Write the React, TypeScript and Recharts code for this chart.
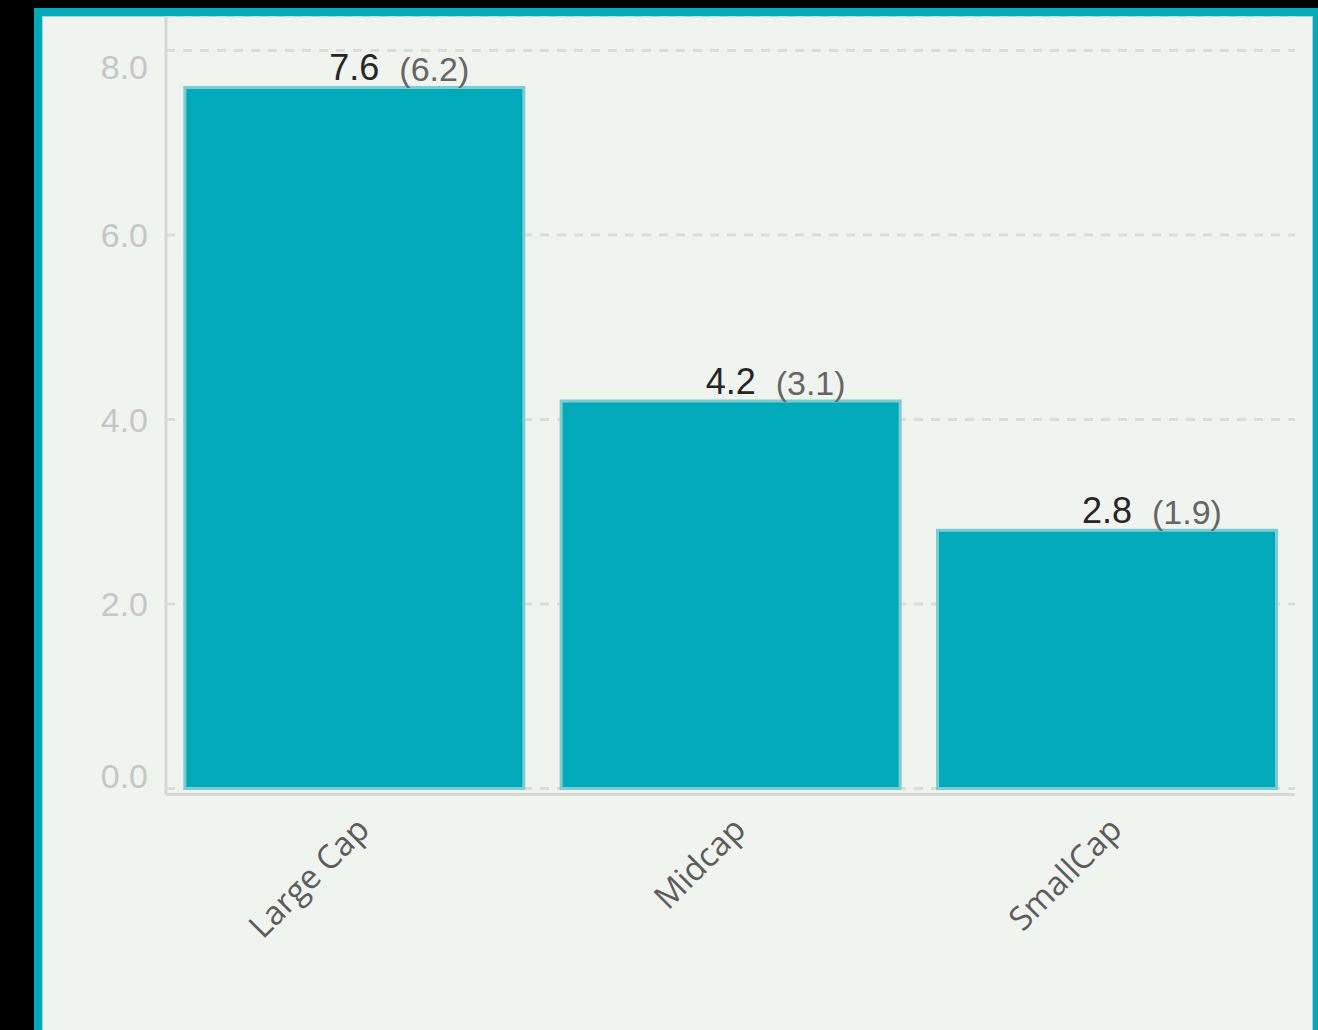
import { BarChart, Bar, XAxis, YAxis, CartesianGrid, LabelList } from "recharts";

const categories = ["Large Cap", "Midcap", "SmallCap"];
const currentValues = [7.6, 4.2, 2.8];
const previousValues = [6.2, 3.1, 1.9];
const yTicks = [0, 2, 4, 6, 8];

const data = categories.map((name, i) => ({
  name,
  value: currentValues[i],
  prev: previousValues[i],
}));

const TEAL = "#02a9b8";
const BAR_EDGE = "#7ccdd3";
const BG = "#f0f4ef";
const LINE = "#d4d7d3";

// y labels at the ends are pushed inward, like the original
function YTick(props: any) {
  const { x, y, payload } = props;
  const v = payload.value;
  const shift = v === 8 ? 16 : v === 0 ? -13 : 0;
  return (
    <text
      x={x}
      y={y + shift}
      dy="0.36em"
      textAnchor="end"
      fill="#c6c6c6"
      fontSize={34}
      fontFamily="'Liberation Sans', Arial, sans-serif"
    >
      {Number(v).toFixed(1)}
    </text>
  );
}

function XTick(props: any) {
  const { x, y, payload } = props;
  return (
    <g transform={`translate(${x + 17},${y + 37})`}>
      <text
        textAnchor="end"
        transform="rotate(-45)"
        fill="#5c5c5c"
        fontSize={33}
        fontFamily="'Open Sans', sans-serif"
      >
        {payload.value}
      </text>
    </g>
  );
}

function ValueLabel(props: any) {
  const { x, y, width, value } = props;
  return (
    <text
      x={x + width / 2}
      y={y - 7}
      textAnchor="middle"
      fill="#262626"
      fontSize={36}
      fontFamily="'Liberation Sans', Arial, sans-serif"
    >
      {Number(value).toFixed(1)}
    </text>
  );
}

function PrevLabel(props: any) {
  const { x, y, width, value } = props;
  return (
    <text
      x={x + width / 2 + 45}
      y={y - 6}
      textAnchor="start"
      fill="#666666"
      fontSize={34}
      fontFamily="'Liberation Sans', Arial, sans-serif"
    >
      ({Number(value).toFixed(1)})
    </text>
  );
}

export default function App() {
  return (
    <div
      style={{
        position: "fixed",
        left: 0,
        top: 0,
        width: 1318,
        height: 1030,
        background: "#000",
        overflow: "hidden",
      }}
    >
      <div
        style={{
          position: "absolute",
          left: 34,
          top: 8,
          width: 1271,
          height: 1100,
          border: `8px solid ${TEAL}`,
          background: BG,
          boxShadow: "inset 0 0 0 1px #9fd9de",
        }}
      >
        <BarChart
          width={1271}
          height={1014}
          data={data}
          margin={{ top: 0, right: 18, bottom: 35.5, left: 0 }}
          barCategoryGap="5%"
        >
          <CartesianGrid
            vertical={false}
            stroke="#d9dcd8"
            strokeWidth={3}
            strokeDasharray="9 8"
          />
          <XAxis
            dataKey="name"
            height={200}
            interval={0}
            tickLine={false}
            tickSize={0}
            tickMargin={0}
            axisLine={{ stroke: LINE, strokeWidth: 3 }}
            tick={<XTick />}
          />
          <YAxis
            width={124}
            domain={[-0.065, 8.374]}
            ticks={yTicks}
            allowDataOverflow
            tickLine={false}
            tickSize={0}
            tickMargin={18}
            axisLine={{ stroke: LINE, strokeWidth: 3 }}
            tick={<YTick />}
          />
          <Bar
            dataKey="value"
            fill={TEAL}
            stroke={BAR_EDGE}
            strokeWidth={3}
            isAnimationActive={false}
          >
            <LabelList dataKey="value" content={<ValueLabel />} />
            <LabelList dataKey="prev" content={<PrevLabel />} />
          </Bar>
        </BarChart>
      </div>
    </div>
  );
}
